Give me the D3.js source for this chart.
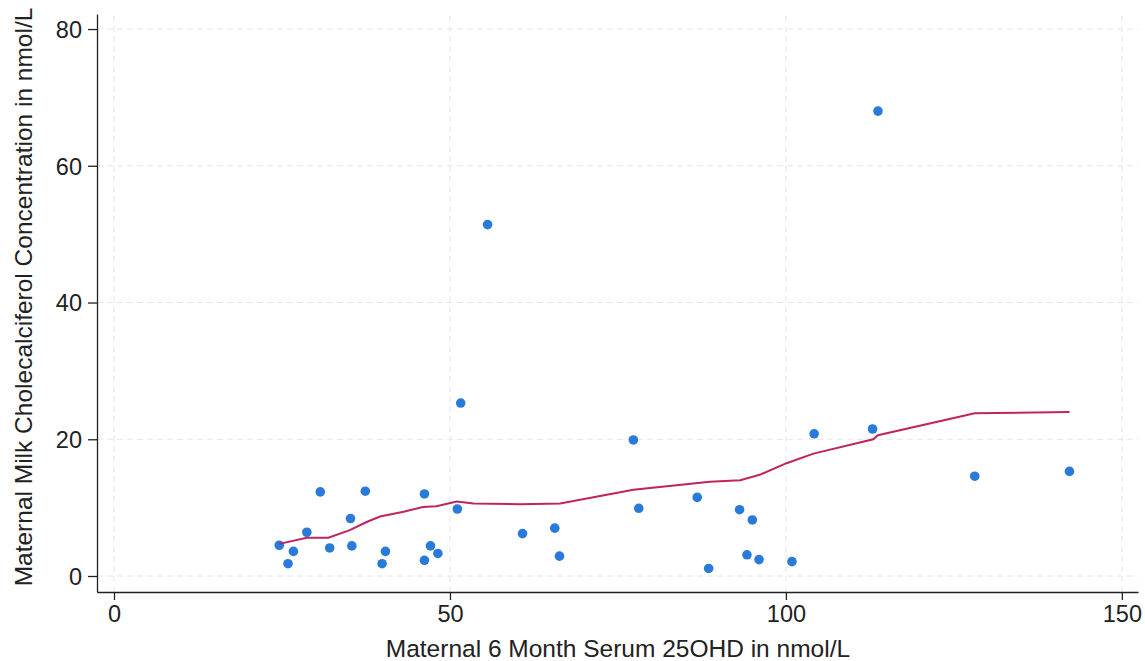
<!DOCTYPE html>
<html>
<head>
<meta charset="utf-8">
<script src="https://cdn.jsdelivr.net/npm/d3@7/dist/d3.min.js"></script>
<style>
  body { margin: 0; background: #fff; }
  svg { font-family: "Liberation Sans", Arial, Helvetica, sans-serif; }
</style>
</head>
<body>
<div id="chart"></div>
<script>
// serum 25OHD (x) vs milk cholecalciferol (y)
const serum = [24.6, 25.9, 26.7, 28.7, 30.7, 32.1, 35.2, 35.4, 37.4, 39.9, 40.4, 46.2, 46.2, 47.1, 48.2,
    51.1, 51.6, 55.6, 60.8, 65.6, 66.3, 77.3, 78.1, 86.8, 88.5, 93.1, 94.2, 95.0, 96.0, 100.9,
    104.2, 112.9, 113.7, 128.1, 142.2];
const milk = [4.5, 1.8, 3.6, 6.4, 12.3, 4.1, 8.4, 4.4, 12.4, 1.8, 3.6, 12.0, 2.3, 4.4, 3.3,
    9.8, 25.3, 51.4, 6.2, 7.0, 2.9, 19.9, 9.9, 11.5, 1.1, 9.7, 3.1, 8.2, 2.4, 2.1,
    20.8, 21.5, 68.0, 14.6, 15.3];

// lowess smoother
const smoothX = [24.6, 28.7, 31.9, 35.1, 37.6, 39.6, 43.1, 46.0, 48.0, 51.0, 53.5, 60.4, 66.4,
    77.3, 88.7, 93.2, 96.1, 100.1, 104.1, 113.0, 113.7, 128.1, 142.2];
const smoothY = [4.7, 5.6, 5.6, 6.7, 7.9, 8.7, 9.4, 10.1, 10.2, 10.9, 10.6, 10.5, 10.6,
    12.6, 13.8, 14.0, 14.8, 16.5, 17.9, 20.0, 20.6, 23.8, 24.0];

const xTicks = [0, 50, 100, 150];
const yTicks = [0, 20, 40, 60, 80];

const width = 1145, height = 661;

const svg = d3.select('#chart').append('svg')
    .attr('width', width)
    .attr('height', height);

const x = d3.scaleLinear().domain([-2.53, 152.4]).range([97, 1138]);
const y = d3.scaleLinear().domain([-2.34, 82.2]).range([592, 14]);

// gridlines
svg.append('g')
    .selectAll('line')
    .data(yTicks)
    .enter().append('line')
    .attr('x1', x.range()[0]).attr('x2', x.range()[1])
    .attr('y1', d => y(d)).attr('y2', d => y(d))
    .attr('stroke', '#e6e6e6')
    .attr('stroke-dasharray', '6,4');

svg.append('g')
    .selectAll('line')
    .data(xTicks)
    .enter().append('line')
    .attr('x1', d => x(d)).attr('x2', d => x(d))
    .attr('y1', y.range()[0]).attr('y2', y.range()[1])
    .attr('stroke', '#e6e6e6')
    .attr('stroke-dasharray', '6,4');

// axes
const xAxis = d3.axisBottom(x).tickValues(xTicks).tickSize(8).tickSizeOuter(0).tickPadding(5);
const yAxis = d3.axisLeft(y).tickValues(yTicks).tickSize(9).tickSizeOuter(0).tickPadding(6);

const gx = svg.append('g')
    .attr('transform', `translate(0, ${y.range()[0]})`)
    .call(xAxis);

const gy = svg.append('g')
    .attr('transform', `translate(${x.range()[0]}, 0)`)
    .call(yAxis);

[gx, gy].forEach(function (g) {
    g.selectAll('path, line').attr('stroke', '#222').attr('stroke-width', 1.3);
    g.selectAll('text')
        .attr('fill', '#222')
        .style('font-size', '23.5px')
        .style('font-family', '"Liberation Sans", Arial, sans-serif');
});
gy.selectAll('text').attr('dy', '0.35em');

// axis titles
svg.append('text')
    .attr('x', x(75))
    .attr('y', 657)
    .attr('text-anchor', 'middle')
    .attr('fill', '#222')
    .style('font-size', '24.5px')
    .text('Maternal 6 Month Serum 25OHD in nmol/L');

svg.append('text')
    .attr('transform', 'translate(32, 297) rotate(-90)')
    .attr('text-anchor', 'middle')
    .attr('fill', '#222')
    .style('font-size', '24.5px')
    .text('Maternal Milk Cholecalciferol Concentration in nmol/L');

// scatter points
svg.selectAll('.dot')
    .data(serum.map((s, i) => [s, milk[i]]))
    .enter()
    .append('circle')
    .attr('class', 'dot')
    .attr('r', 4.8)
    .attr('cx', d => x(d[0]))
    .attr('cy', d => y(d[1]))
    .style('fill', '#2a7bd9');

// lowess line
const line = d3.line()
    .x(d => x(d[0]))
    .y(d => y(d[1]));

svg.append('path')
    .datum(smoothX.map((s, i) => [s, smoothY[i]]))
    .attr('d', line)
    .attr('fill', 'none')
    .attr('stroke', '#c0245c')
    .attr('stroke-width', 2);
</script>
</body>
</html>
